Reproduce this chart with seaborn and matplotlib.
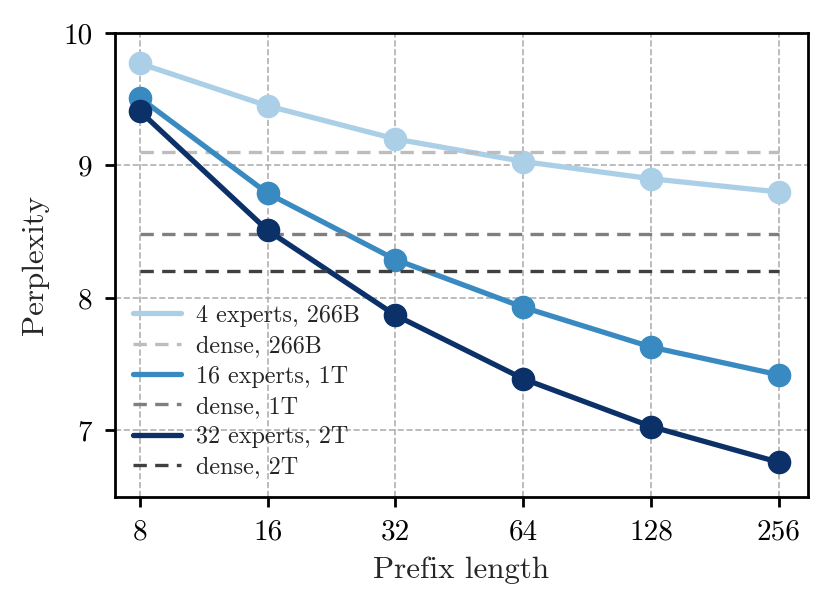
import pandas as pd
import matplotlib
matplotlib.use("Agg")
import matplotlib.pyplot as plt
import seaborn as sns

# values
prefix_len = [8, 16, 32, 64, 128, 256]
moe_4 = [9.77, 9.45, 9.20, 9.03, 8.90, 8.80]
moe_16 = [9.51, 8.79, 8.29, 7.93, 7.63, 7.42]
moe_32 = [9.41, 8.51, 7.87, 7.39, 7.03, 6.76]
dense_266b = 9.10
dense_1t = 8.48
dense_2t = 8.20

series_names = ["4 experts, 266B", "16 experts, 1T", "32 experts, 2T"]
dense_names = ["dense, 266B", "dense, 1T", "dense, 2T"]
moe_colors = ["#abcfe6", "#3a8ac2", "#0c3169"]
dense_colors = ["#bdbdbd", "#7f7f7f", "#404040"]

sns.set_style("ticks")
plt.rcParams["font.family"] = "serif"
plt.rcParams["font.serif"] = ["cmr10"]
plt.rcParams["mathtext.fontset"] = "cm"
plt.rcParams["axes.formatter.use_mathtext"] = True
plt.rcParams["axes.edgecolor"] = "black"
plt.rcParams["xtick.color"] = "black"
plt.rcParams["ytick.color"] = "black"

df = pd.DataFrame({
    "Prefix length": prefix_len * 3,
    "Perplexity": moe_4 + moe_16 + moe_32,
    "model": [series_names[0]] * 6 + [series_names[1]] * 6 + [series_names[2]] * 6,
})

fig, ax = plt.subplots(figsize=(4.16, 3.055), dpi=200)
ax.grid(True, linestyle="--", color="#b0b0b0", linewidth=0.6)
ax.set_axisbelow(True)

handles = []
for name, dname, dval, c, dc in zip(series_names, dense_names,
                                      [dense_266b, dense_1t, dense_2t],
                                      moe_colors, dense_colors):
    sub = df[df["model"] == name]
    sns.lineplot(data=sub, x="Prefix length", y="Perplexity", color=c,
                 marker="o", markersize=8.5, markeredgewidth=0, linewidth=1.9,
                 ax=ax, label=None)
    h1, = ax.plot([], [], color=c, linewidth=1.9, label=name)
    ax.hlines(dval, prefix_len[0], prefix_len[-1], colors=dc,
              linestyles=(0, (4, 2.5)), linewidth=1.2)
    h2, = ax.plot([], [], color=dc, linewidth=1.2, linestyle=(0, (4, 2.5)), label=dname)
    handles += [h1, h2]

ax.set_xscale("log", base=2)
ax.set_xlim(2 ** 2.804, 2 ** 8.227)
ax.set_ylim(6.5, 10)
ax.set_xticks(prefix_len)
ax.set_xticklabels([str(v) for v in prefix_len])
ax.minorticks_off()
ax.set_yticks([7, 8, 9, 10])
ax.set_yticklabels(["7", "8", "9", "10"])
ax.tick_params(labelsize=10.5, color="black", length=3.6, width=1.0, pad=4.5)
ax.set_xlabel("Prefix length", fontsize=11.2, labelpad=4)
ax.set_ylabel("Perplexity", fontsize=11.2, labelpad=5)
for s in ax.spines.values():
    s.set_linewidth(1.0)
    s.set_color("black")

ax.legend(handles=handles, frameon=False, fontsize=8.7, loc="lower left",
          handlelength=2.0, handletextpad=0.6, labelspacing=0.34,
          borderaxespad=0.35)

fig.subplots_adjust(left=0.138, right=0.971, top=0.946, bottom=0.187)
fig.savefig("out.png", dpi=200)
